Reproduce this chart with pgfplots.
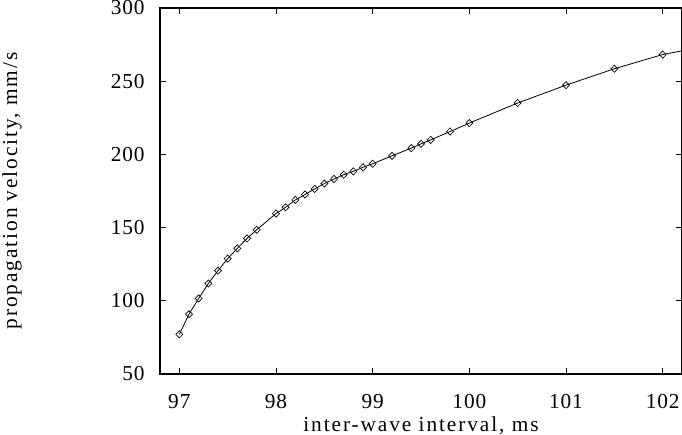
\documentclass[border=0pt]{standalone}
\usepackage{fontspec}
\setmainfont{Liberation Serif}
\usepackage{pgfplots}
\pgfplotsset{compat=1.18}
\usetikzlibrary{calc}

\begin{document}
\begin{tikzpicture}
\begin{axis}[
    scale only axis,
    width=391.5pt, height=274.5pt,
    xmin=96.8, xmax=102.2,
    ymin=50, ymax=300,
    xtick={97,98,99,100,101,102},
    ytick={50,100,150,200,250,300},
    tick align=inside,
    major tick length=4.3pt,
    every tick/.style={black, line width=0.6pt},
    axis line style={line width=0.9pt},
    /pgf/number format/assume math mode=true,
    tick label style={font=\fontsize{16}{19}\selectfont\addfontfeature{LetterSpace=4}},
    label style={font=\fontsize{16}{19}\selectfont\addfontfeature{LetterSpace=9}},
    xticklabel style={yshift=-12pt},
    yticklabel style={xshift=-8pt},
    xlabel={inter-wave interval, ms},
    ylabel={propagation velocity, mm/s},
    xlabel style={yshift=1.5pt},
    ylabel style={yshift=60pt},
]
% connecting curve
\addplot[black, line width=0.6pt, no marks] coordinates {
(97.0,77.1) (97.1,90.9) (97.2,101.6) (97.3,111.8) (97.4,120.6)
(97.5,128.8) (97.6,135.8) (97.7,142.6) (97.8,148.5) (98.0,159.6)
(98.1,163.9) (98.2,168.9) (98.3,172.6) (98.4,176.4) (98.5,180.1)
(98.6,183.2) (98.7,186.1) (98.8,188.4) (98.9,191.2) (99.0,193.6)
(99.2,199.0) (99.4,204.3) (99.5,207.2) (99.6,209.9) (99.8,215.6)
(100.0,221.4) (100.5,235.1) (101.0,247.3) (101.5,258.5) (102.0,268.2)
(102.2,270.7)
};
% measured points
\addplot[only marks, black, mark=diamond, mark size=2.7pt, mark options={line width=0.5pt, fill=white, xscale=1.3}] coordinates {
(97.0,77.1) (97.1,90.9) (97.2,101.6) (97.3,111.8) (97.4,120.6)
(97.5,128.8) (97.6,135.8) (97.7,142.6) (97.8,148.5) (98.0,159.6)
(98.1,163.9) (98.2,168.9) (98.3,172.6) (98.4,176.4) (98.5,180.1)
(98.6,183.2) (98.7,186.1) (98.8,188.4) (98.9,191.2) (99.0,193.6)
(99.2,199.0) (99.4,204.3) (99.5,207.2) (99.6,209.9) (99.8,215.6)
(100.0,221.4) (100.5,235.1) (101.0,247.3) (101.5,258.5) (102.0,268.2)
};
\end{axis}
\pgfresetboundingbox
\path[use as bounding box] ($(current axis.south west)+(-120pt,-45pt)$) rectangle ($(current axis.north east)+(0pt,6pt)$);
\end{tikzpicture}
\end{document}
